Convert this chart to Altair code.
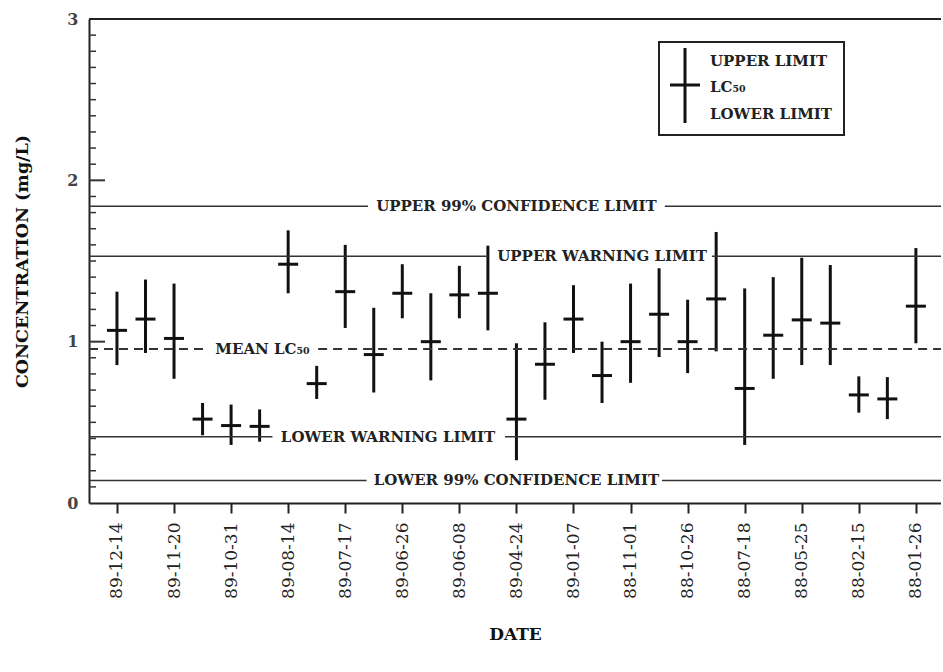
import json
import altair as alt
import pandas as pd

# ---------------- data ----------------
tick_dates = ["89-12-14", "89-11-20", "89-10-31", "89-08-14", "89-07-17",
              "89-06-26", "89-06-08", "89-04-24", "89-01-07", "88-11-01",
              "88-10-26", "88-07-18", "88-05-25", "88-02-15", "88-01-26"]

lc50 = [1.07, 1.14, 1.02, 0.52, 0.48, 0.475, 1.48, 0.74, 1.31, 0.92,
        1.30, 1.00, 1.29, 1.30, 0.52, 0.86, 1.14, 0.79, 1.00, 1.17,
        1.00, 1.265, 0.71, 1.04, 1.135, 1.115, 0.67, 0.645, 1.22]
upper = [1.31, 1.385, 1.36, 0.62, 0.61, 0.58, 1.69, 0.85, 1.60, 1.21,
         1.48, 1.30, 1.47, 1.595, 0.99, 1.12, 1.35, 1.00, 1.36, 1.455,
         1.26, 1.68, 1.33, 1.40, 1.52, 1.475, 0.785, 0.78, 1.58]
lower = [0.855, 0.93, 0.77, 0.42, 0.36, 0.38, 1.30, 0.645, 1.085, 0.685,
         1.145, 0.76, 1.145, 1.07, 0.265, 0.64, 0.93, 0.62, 0.745, 0.905,
         0.805, 0.94, 0.36, 0.77, 0.855, 0.855, 0.56, 0.52, 0.99]

limit_names = ["UPPER 99% CONFIDENCE LIMIT", "UPPER WARNING LIMIT",
               "MEAN LC\u2085\u2080", "LOWER WARNING LIMIT",
               "LOWER 99% CONFIDENCE LIMIT"]
limit_values = [1.84, 1.53, 0.955, 0.41, 0.14]

minor_ticks = [0.1, 0.2, 0.3, 0.4, 0.5, 0.6, 0.7, 0.8, 0.9,
               1.1, 1.2, 1.3, 1.4, 1.5, 1.6, 1.7, 1.8, 1.9,
               2.1, 2.2, 2.3, 2.4, 2.5, 2.6, 2.7, 2.8, 2.9]
major_ticks = [1, 2]

# ---------------- layout of annotations (in x index units) ----------------
X_MIN, X_MAX = -0.98, 28.88
label_centers = [14.0, 17.0, 5.1, 9.5, 14.0]
gap_starts = [8.8, 13.0, 3.1, 5.45, 8.75]
gap_ends = [19.2, 20.85, 7.05, 13.6, 19.1]
dashed = [False, False, True, False, False]

W, H = 852, 484
SERIF = "DejaVu Serif"

pts = pd.DataFrame({"i": list(range(len(lc50))), "lc50": lc50,
                    "upper": upper, "lower": lower})

seg_rows = []
for name, v, gs, ge, d in zip(limit_names, limit_values, gap_starts, gap_ends, dashed):
    seg_rows.append({"x0": X_MIN, "x1": gs, "y": v, "dash": d})
    seg_rows.append({"x0": ge, "x1": X_MAX, "y": v, "dash": d})
segs = pd.DataFrame(seg_rows)
labels = pd.DataFrame({"x": label_centers, "y": limit_values, "t": limit_names})

xscale = alt.Scale(domain=[X_MIN, X_MAX], nice=False, zero=False)
yscale = alt.Scale(domain=[0, 3], nice=False, zero=False)

label_expr = json.dumps(tick_dates) + "[round(datum.value / 2)]"

x_axis = alt.Axis(values=list(range(0, 29, 2)), labelExpr=label_expr,
                  title="DATE", titleFont=SERIF, titleFontWeight="bold",
                  titleFontSize=17, titleColor="#111", titleX=W / 2, titleY=131,
                  titleAlign="center", titleBaseline="middle",
                  labelAngle=270, labelAlign="right", labelBaseline="middle",
                  labelFont=SERIF, labelFontSize=17, labelColor="#222",
                  labelPadding=9, tickSize=10, tickWidth=2, tickColor="#222",
                  domainColor="#222", domainWidth=2, grid=False)
y_axis = alt.Axis(values=[0, 1, 2, 3], title="CONCENTRATION  (mg/L)",
                  titleFont=SERIF, titleFontWeight="bold", titleFontSize=17.5,
                  titleColor="#111", titleAngle=270, titleX=-67, titleY=H / 2,
                  titleAlign="center", titleBaseline="middle",
                  labelFont=SERIF, labelFontSize=16, labelFontWeight="bold",
                  labelColor="#444", labelPadding=11, tickSize=0,
                  domainColor="#222", domainWidth=2, grid=False)


def X(field):
    return alt.X(field, scale=xscale, axis=x_axis)


def Y(field):
    return alt.Y(field, scale=yscale, axis=y_axis)


bars = alt.Chart(pts).mark_rule(strokeWidth=3, color="#111").encode(
    x=X("i:Q"), y=Y("lower:Q"), y2="upper:Q",
)
cross = alt.Chart(pts).mark_rule(strokeWidth=3, color="#111", xOffset=-10, x2Offset=10).encode(
    x=X("i:Q"), x2="i:Q", y=Y("lc50:Q"),
)
solid_lines = alt.Chart(segs).transform_filter("!datum.dash").mark_rule(
    strokeWidth=1.5, color="#333").encode(
    x=X("x0:Q"), x2="x1:Q", y=Y("y:Q"),
)
dash_lines = alt.Chart(segs).transform_filter("datum.dash").mark_rule(
    strokeWidth=2, color="#333", strokeDash=[9, 6]).encode(
    x=X("x0:Q"), x2="x1:Q", y=Y("y:Q"),
)
line_text = alt.Chart(labels).mark_text(font=SERIF, fontWeight="bold", fontSize=15,
                                         color="#222", align="center", baseline="middle").encode(
    x=X("x:Q"), y=Y("y:Q"), text="t:N",
)
top_line = alt.Chart(pd.DataFrame({"y": [3]})).mark_rule(strokeWidth=2, color="#222").encode(
    y=Y("y:Q"),
)
minor = alt.Chart(pd.DataFrame({"y": minor_ticks})).mark_rule(strokeWidth=1.5, color="#333").encode(
    y=Y("y:Q"), x=alt.value(0), x2=alt.value(7),
)
major = alt.Chart(pd.DataFrame({"y": major_ticks})).mark_rule(strokeWidth=2, color="#333").encode(
    y=Y("y:Q"), x=alt.value(0), x2=alt.value(16),
)

# legend box (annotation)
one = pd.DataFrame({"k": [0]})
leg_box = alt.Chart(one).mark_rect(fill="white", stroke="#222", strokeWidth=2).encode(
    x=alt.value(570), x2=alt.value(755), y=alt.value(23), y2=alt.value(116))
leg_v = alt.Chart(one).mark_rule(strokeWidth=3, color="#111").encode(
    x=alt.value(596), y=alt.value(29), y2=alt.value(104))
leg_h = alt.Chart(one).mark_rule(strokeWidth=3, color="#111").encode(
    x=alt.value(581), x2=alt.value(611), y=alt.value(66))
leg_texts = []
for txt, yy in zip(["UPPER LIMIT", "LC\u2085\u2080", "LOWER LIMIT"], [42, 68, 95]):
    leg_texts.append(alt.Chart(one).mark_text(font=SERIF, fontWeight="bold", fontSize=15,
                                              color="#222", align="left", baseline="middle").encode(
        x=alt.value(621), y=alt.value(yy), text=alt.value(txt)))

chart = alt.layer(bars, cross, solid_lines, dash_lines, line_text, top_line, minor, major,
                  leg_box, leg_v, leg_h, *leg_texts).properties(
    width=W, height=H,
    autosize=alt.AutoSizeParams(type="none"),
    padding={"left": 89, "top": 19, "right": 0, "bottom": 165},
    background="white",
).configure_view(stroke=None)

chart.save("out.html", embed_options={"renderer": "svg", "actions": False})
